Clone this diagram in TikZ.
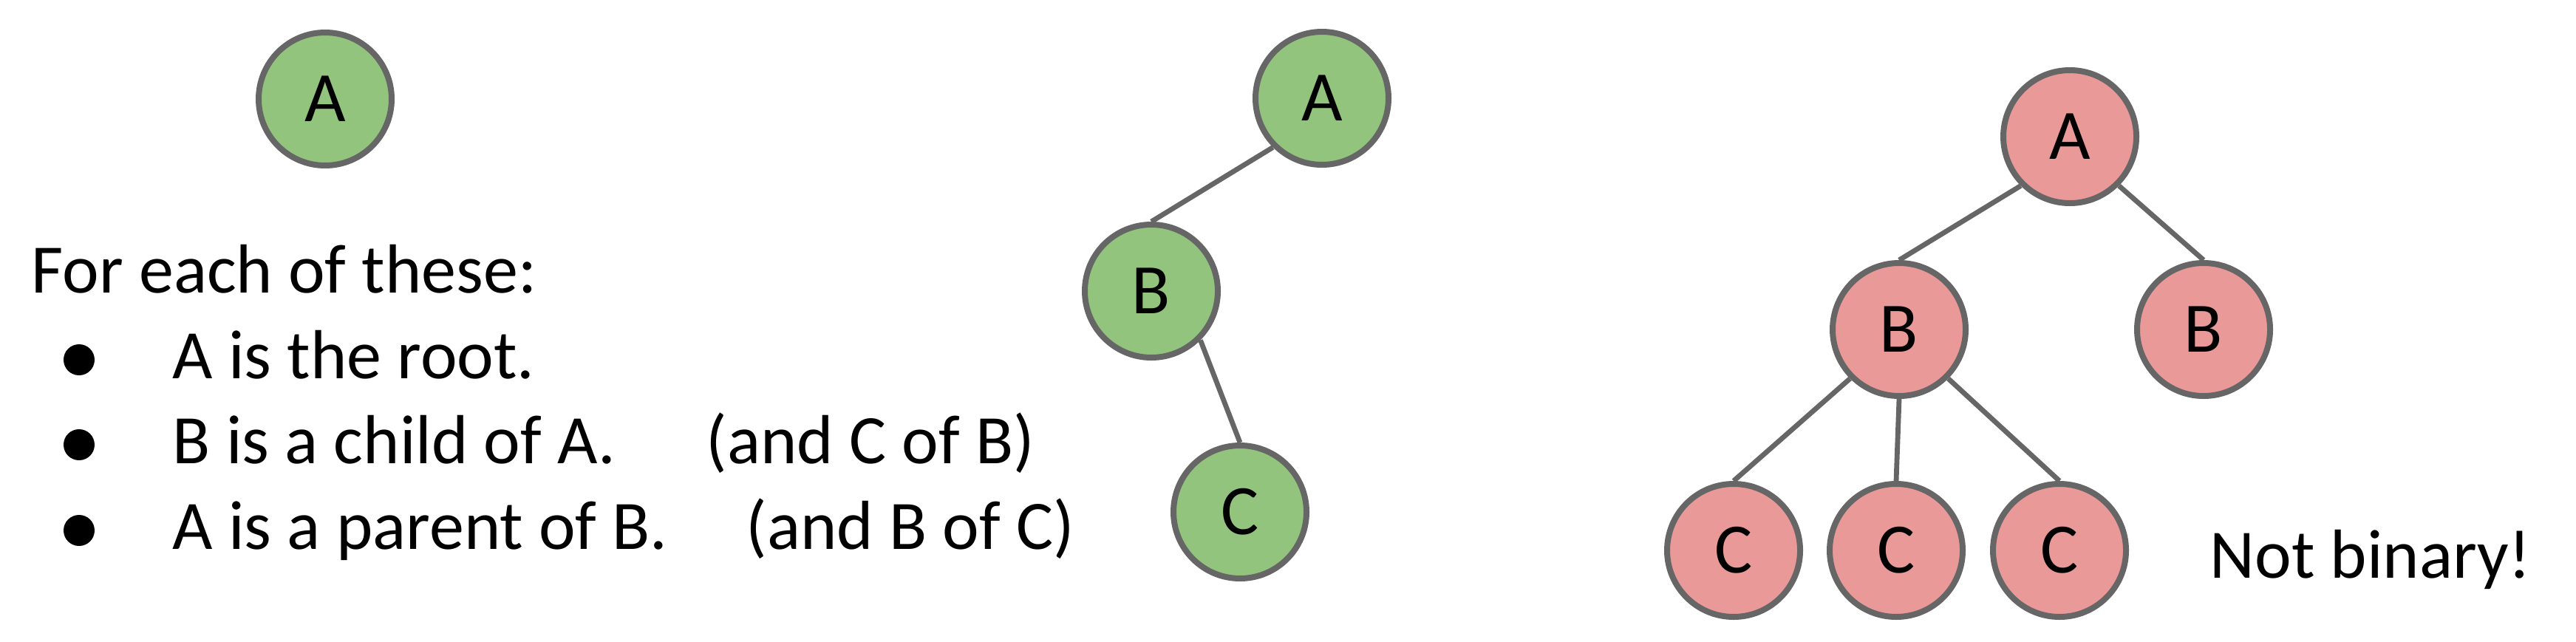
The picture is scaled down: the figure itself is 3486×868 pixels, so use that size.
\documentclass[tikz,border=0pt]{standalone}
\usepackage{fontspec}
\setmainfont{Carlito}
\definecolor{treegreen}{HTML}{93C47D}
\definecolor{treepink}{HTML}{EA9999}
\definecolor{treegray}{HTML}{666666}
\begin{document}
\begin{tikzpicture}[x=0.25pt,y=-0.25pt,
  tnode/.style={circle,draw=treegray,line width=2pt,minimum size=45pt,inner sep=0pt,font=\fontsize{24}{28}\selectfont},
  gnode/.style={tnode,fill=treegreen},
  pnode/.style={tnode,fill=treepink},
  tedge/.style={draw=treegray,line width=1.7pt},
  body/.style={anchor=base west,inner sep=0pt,font=\fontsize{23.5}{28}\selectfont},
  bulletdot/.style={circle,fill=black,inner sep=0pt,minimum width=10.5pt,minimum height=10pt}]
\useasboundingbox (0,0) rectangle (3486,868);

% lone node
\node[gnode] (A0) at (440,134) {A};

% text
\node[body] (t0) at (42,396) {For each of these:};
\node[bulletdot] (b1) at (107,487) {};
\node[bulletdot] (b2) at (107,602) {};
\node[bulletdot] (b3) at (107,718) {};
\node[body] (t1) at (233,512) {A is the root.};
\node[body] (t2) at (233,627) {B is a child of A.};
\node[body] (t2b) at (955,627) {(and C of B)};
\node[body] (t3) at (233,743) {A is a parent of B.};
\node[body] (t3b) at (1009,743) {(and B of C)};

% middle tree
\node[gnode] (A1) at (1789,133) {A};
\node[gnode] (B1) at (1558,394) {B};
\node[gnode] (C1) at (1678,693) {C};
\draw[tedge] (A1.225) -- (B1.north);
\draw[tedge] (B1.315) -- (C1.north);

% right tree
\node[pnode] (A2) at (2801,185) {A};
\node[pnode] (B2) at (2570,446) {B};
\node[pnode] (B3) at (2982,446) {B};
\node[pnode] (C2) at (2346,745) {C};
\node[pnode] (C3) at (2566,745) {C};
\node[pnode] (C4) at (2787,745) {C};
\draw[tedge] (A2.225) -- (B2.north);
\draw[tedge] (A2.315) -- (B3.north);
\draw[tedge] (B2.225) -- (C2.north);
\draw[tedge] (B2.south) -- (C3.north);
\draw[tedge] (B2.315) -- (C4.north);

\node[body] (nb) at (2990,782) {Not binary!};
\end{tikzpicture}
\end{document}
